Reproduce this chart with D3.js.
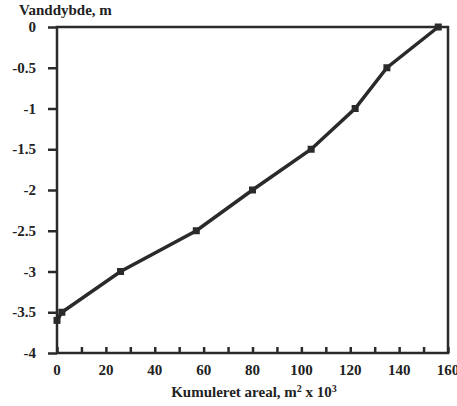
<!DOCTYPE html>
<html>
<head>
<meta charset="utf-8">
<script src="https://cdn.jsdelivr.net/npm/d3@7"></script>
<style>
body { margin:0; background:#fff; }
text { font-family:"Liberation Serif","DejaVu Serif",serif; font-weight:bold; fill:#222; }
</style>
</head>
<body>
<svg id="chart" width="457" height="406"></svg>
<script>
// kumuleret areal (m2 x 10^3) og vanddybde (m)
var areal = [0, 2, 26, 57, 80, 104, 122, 135, 156];
var dybde = [-3.6, -3.5, -3.0, -2.5, -2.0, -1.5, -1.0, -0.5, 0];
var xTicks = [0, 20, 40, 60, 80, 100, 120, 140, 160];
var yTicks = [0, -0.5, -1, -1.5, -2, -2.5, -3, -3.5, -4];

var svg = d3.select("#chart");
var pLeft = 57, pRight = 448, pTop = 27, pBottom = 353;

var x = d3.scaleLinear().domain([0, 160]).range([pLeft, pRight]);
var y = d3.scaleLinear().domain([-4, 0]).range([pBottom, pTop]);

// frame
svg.append("rect")
    .attr("x", pLeft).attr("y", pTop)
    .attr("width", pRight - pLeft).attr("height", pBottom - pTop)
    .style("fill", "none").style("stroke", "#2a2a2a").style("stroke-width", "2.5px");

// x axis, ticks inside
var xAxis = d3.axisBottom(x).tickValues(d3.range(0, 161, 10)).tickSize(-6).tickFormat("");
svg.append("g").attr("transform", "translate(0," + pBottom + ")").call(xAxis)
    .call(function(g){ g.select(".domain").remove(); })
    .selectAll("line").style("stroke", "#2a2a2a").style("stroke-width", "2.5px");

svg.append("g").selectAll("text").data(xTicks).enter().append("text")
    .attr("x", function(d){ return x(d); })
    .attr("y", pBottom + 22)
    .attr("text-anchor", "middle")
    .style("font-size", "15px")
    .text(function(d){ return d; });

// y axis, ticks outside
var yAxis = d3.axisLeft(y).tickValues(yTicks).tickSize(9).tickFormat("");
svg.append("g").attr("transform", "translate(" + pLeft + ",0)").call(yAxis)
    .call(function(g){ g.select(".domain").remove(); })
    .selectAll("line").style("stroke", "#2a2a2a").style("stroke-width", "2.5px");

svg.append("g").selectAll("text").data(yTicks).enter().append("text")
    .attr("x", pLeft - 21)
    .attr("y", function(d){ return y(d) + 5; })
    .attr("text-anchor", "end")
    .style("font-size", "15px")
    .text(function(d){ return d; });

// titles
svg.append("text").attr("x", 19).attr("y", 15).style("font-size", "15px").text("Vanddybde, m");
var xt = svg.append("text").attr("x", 254).attr("y", 397).attr("text-anchor", "middle").style("font-size", "15px");
xt.append("tspan").text("Kumuleret areal, m");
xt.append("tspan").attr("dy", -5).style("font-size", "10px").text("2");
xt.append("tspan").attr("dy", 5).text(" x 10");
xt.append("tspan").attr("dy", -5).style("font-size", "10px").text("3");

// data line
var pts = areal.map(function(d, i){ return [d, dybde[i]]; });
var line = d3.line().x(function(d){ return x(d[0]); }).y(function(d){ return y(d[1]); });
svg.append("path").datum(pts).attr("d", line)
    .style("fill", "none").style("stroke", "#2a2a2a").style("stroke-width", "3.5px");

svg.append("g").selectAll("rect").data(pts).enter().append("rect")
    .attr("x", function(d){ return x(d[0]) - 3.5; })
    .attr("y", function(d){ return y(d[1]) - 3.5; })
    .attr("width", 7).attr("height", 7)
    .style("fill", "#2a2a2a");
</script>
</body>
</html>
